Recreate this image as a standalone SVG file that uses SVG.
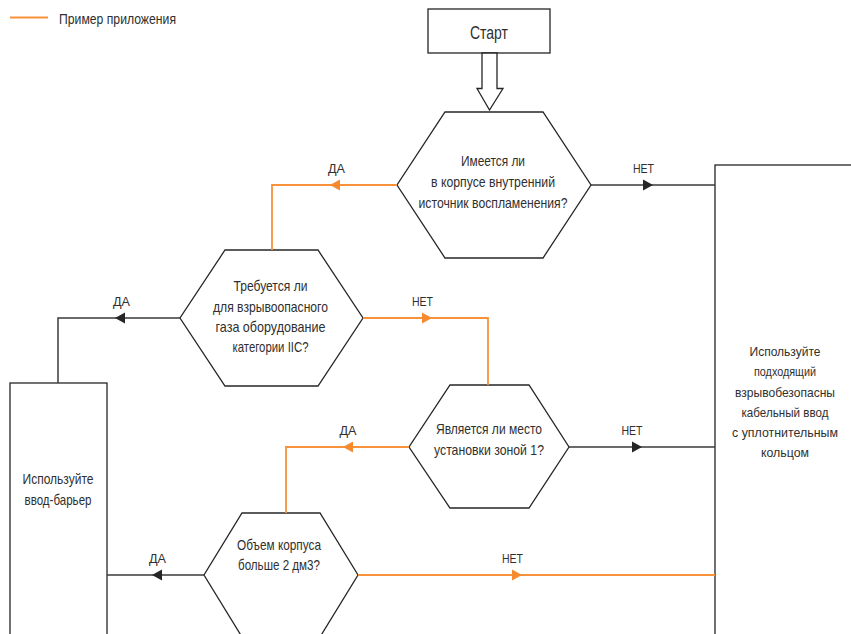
<svg xmlns="http://www.w3.org/2000/svg" width="851" height="634" viewBox="0 0 851 634">
<style>
  .bg { fill: #ffffff; }
  .node { fill: #ffffff; stroke: #262626; stroke-width: 1.3; }
  .blk { fill: none; stroke: #3a3a3a; stroke-width: 1.5; }
  .org { fill: none; stroke: #F7923A; stroke-width: 1.8; }
  .ahb { fill: #262626; }
  .aho { fill: #F68A2E; }
  text { font-family: "Liberation Sans", Arial, sans-serif; fill: #2f2f2f; }
  .t { font-size: 14.5px; text-anchor: middle; }
  .tr { font-size: 13.5px; text-anchor: middle; }
  .lbl { font-size: 12.5px; text-anchor: middle; }
  .big { font-size: 17.5px; text-anchor: middle; }
  .leg { font-size: 14.5px; }
</style>
<rect class="bg" x="0" y="0" width="851" height="634"/>

<g id="legend">
  <line x1="10" y1="17.5" x2="48" y2="17.5" class="org"/>
  <text class="leg" x="59" y="24" textLength="117" lengthAdjust="spacingAndGlyphs">Пример приложения</text>
</g>

<g id="start">
  <rect class="node" x="428" y="9" width="122" height="44"/>
  <text class="big" x="489" y="39" textLength="38" lengthAdjust="spacingAndGlyphs">Старт</text>
  <polygon class="node" points="482,53 497,53 497,88.5 503,88.5 489.5,110 477,88.5 482,88.5"/>
</g>

<g id="q1">
  <polygon class="node" points="445,112 543,112 591,185 543,258 445,258 397,185"/>
  <text class="t" x="493" y="166" textLength="64" lengthAdjust="spacingAndGlyphs">Имеется ли</text>
  <text class="t" x="493" y="187" textLength="124" lengthAdjust="spacingAndGlyphs">в корпусе внутренний</text>
  <text class="t" x="493" y="207.5" textLength="149" lengthAdjust="spacingAndGlyphs">источник воспламенения?</text>
</g>

<g id="q2">
  <polygon class="node" points="225,250 318,250 363,318 318,386 225,386 180,318"/>
  <text class="t" x="270.5" y="291" textLength="74" lengthAdjust="spacingAndGlyphs">Требуется ли</text>
  <text class="t" x="270.5" y="311.5" textLength="115" lengthAdjust="spacingAndGlyphs">для взрывоопасного</text>
  <text class="t" x="270.5" y="332" textLength="110" lengthAdjust="spacingAndGlyphs">газа оборудование</text>
  <text class="t" x="270.5" y="352" textLength="76" lengthAdjust="spacingAndGlyphs">категории IIC?</text>
</g>

<g id="q3">
  <polygon class="node" points="450,385 529,385 569,447 529,508 450,508 409,447"/>
  <text class="t" x="489" y="434" textLength="106" lengthAdjust="spacingAndGlyphs">Является ли место</text>
  <text class="t" x="489" y="455" textLength="110" lengthAdjust="spacingAndGlyphs">установки зоной 1?</text>
</g>

<g id="q4">
  <polygon class="node" points="242,513 320,513 358,575 320,637 242,637 204,575"/>
  <text class="t" x="279" y="550" textLength="84" lengthAdjust="spacingAndGlyphs">Объем корпуса</text>
  <text class="t" x="279" y="570" textLength="82" lengthAdjust="spacingAndGlyphs">больше 2 дм3?</text>
</g>

<g id="barrier">
  <rect class="node" x="10" y="383" width="97" height="253"/>
  <text class="t" x="58" y="484" textLength="71" lengthAdjust="spacingAndGlyphs">Используйте</text>
  <text class="t" x="58" y="505" textLength="67" lengthAdjust="spacingAndGlyphs">ввод-барьер</text>
</g>

<g id="gland">
  <rect class="node" x="715" y="165" width="138" height="471"/>
  <text class="tr" x="785" y="356" textLength="71" lengthAdjust="spacingAndGlyphs">Используйте</text>
  <text class="tr" x="785" y="376" textLength="62" lengthAdjust="spacingAndGlyphs">подходящий</text>
  <text class="tr" x="785" y="397" textLength="100" lengthAdjust="spacingAndGlyphs">взрывобезопасны</text>
  <text class="tr" x="785" y="417" textLength="87" lengthAdjust="spacingAndGlyphs">кабельный ввод</text>
  <text class="tr" x="785" y="437" textLength="106" lengthAdjust="spacingAndGlyphs">с уплотнительным</text>
  <text class="tr" x="785" y="457" textLength="48" lengthAdjust="spacingAndGlyphs">кольцом</text>
</g>

<g id="connectors">
  <!-- q1 yes -->
  <polyline class="org" points="397,185 272,185 272,250"/>
  <polygon class="aho" points="330,185 340,179.5 340,190.5"/>
  <text class="lbl" x="336.5" y="173" textLength="17" lengthAdjust="spacingAndGlyphs">ДА</text>
  <!-- q1 no -->
  <line class="blk" x1="591" y1="185" x2="715" y2="185"/>
  <polygon class="ahb" points="653,185 643,179.5 643,190.5"/>
  <text class="lbl" x="643.5" y="173" textLength="21" lengthAdjust="spacingAndGlyphs">НЕТ</text>
  <!-- q2 yes -->
  <polyline class="blk" points="180,318 58,318 58,383"/>
  <polygon class="ahb" points="115,318 125,312.5 125,323.5"/>
  <text class="lbl" x="121.5" y="306" textLength="17" lengthAdjust="spacingAndGlyphs">ДА</text>
  <!-- q2 no -->
  <polyline class="org" points="363,318 488,318 488,385"/>
  <polygon class="aho" points="432,318 422,312.5 422,323.5"/>
  <text class="lbl" x="422.5" y="306" textLength="21" lengthAdjust="spacingAndGlyphs">НЕТ</text>
  <!-- q3 yes -->
  <polyline class="org" points="409,447 286,447 286,513"/>
  <polygon class="aho" points="343,447 353,441.5 353,452.5"/>
  <text class="lbl" x="348" y="435" textLength="17" lengthAdjust="spacingAndGlyphs">ДА</text>
  <!-- q3 no -->
  <line class="blk" x1="569" y1="447" x2="715" y2="447"/>
  <polygon class="ahb" points="642,447 632,441.5 632,452.5"/>
  <text class="lbl" x="632" y="435" textLength="21" lengthAdjust="spacingAndGlyphs">НЕТ</text>
  <!-- q4 yes -->
  <line class="blk" x1="204" y1="575" x2="107" y2="575"/>
  <polygon class="ahb" points="152,575 162,569.5 162,580.5"/>
  <text class="lbl" x="157.5" y="563" textLength="17" lengthAdjust="spacingAndGlyphs">ДА</text>
  <!-- q4 no -->
  <line class="org" x1="358" y1="575" x2="715" y2="575"/>
  <polygon class="aho" points="522,575 512,569.5 512,580.5"/>
  <text class="lbl" x="512.5" y="563" textLength="21" lengthAdjust="spacingAndGlyphs">НЕТ</text>
</g>
</svg>
